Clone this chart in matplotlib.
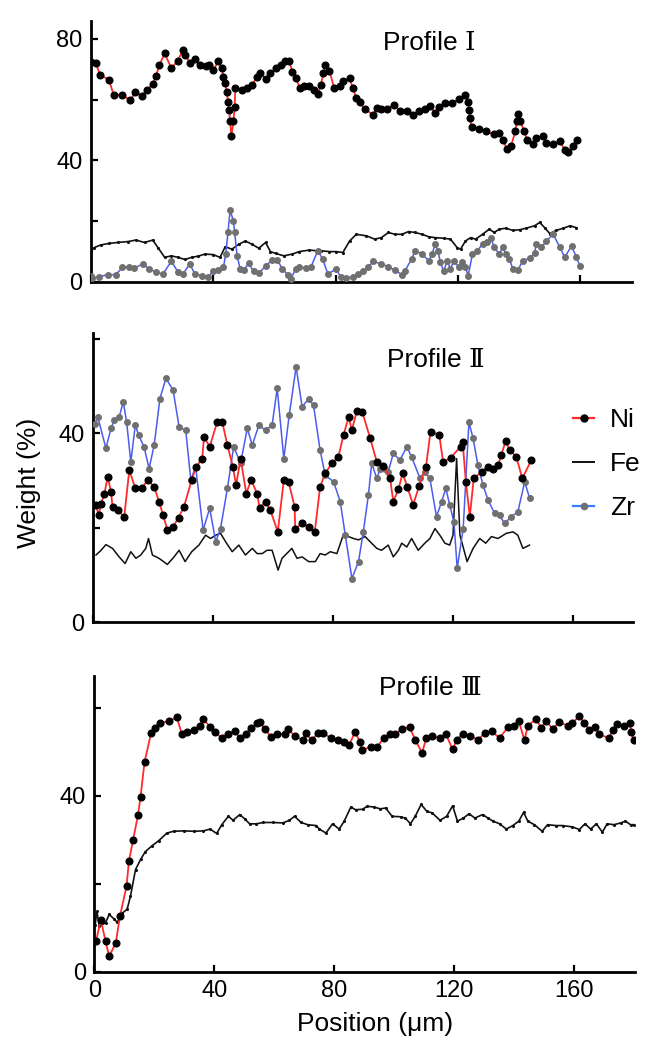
import matplotlib
matplotlib.use("Agg")
import matplotlib.pyplot as plt
from matplotlib.lines import Line2D

plt.rcParams['font.family'] = ['Liberation Sans', 'DejaVu Serif', 'Noto Sans CJK SC']

NI_LINE = "#ff2a2a"
ZR_LINE = "#4b5cf0"
ZR_DOT = "#707070"
FE_LINE = "#111111"

# ---- Profile I ----
p1_ni_x = [0, 1.5, 3.0, 5.9, 7.4, 10.3, 12.9, 14.4, 16.6, 18.3,
           20.2, 21.3, 22.4, 24.1, 26.3, 28.3, 30.1, 30.9, 32.3, 34.0,
           35.6, 37.5, 38.6, 40.0, 41.7, 42.8, 43.3, 43.9, 44.4, 44.8,
           45.2, 45.5, 45.9, 46.6, 47.0, 47.2, 49.4, 51.1, 52.7, 54.4,
           55.4, 57.1, 58.7, 60.4, 62.0, 63.4, 64.8, 65.9, 67.0, 68.4,
           69.7, 71.4, 73.0, 74.2, 75.2, 76.0, 76.7, 78.0, 79.6, 81.3,
           82.4, 84.6, 85.7, 86.8, 87.9, 89.5, 92.3, 93.4, 95.0, 96.7,
           99.2, 101.1, 103.3, 105.5, 107.2, 109.3, 111.0, 112.6, 114.0, 115.9,
           118.2, 120.4, 122.5, 123.4, 123.7, 124.0, 124.5, 127.0, 129.1, 131.9,
           133.6, 134.7, 136.0, 137.4, 138.8, 139.3, 139.6, 140.4, 141.8, 142.6,
           144.6, 145.7, 147.9, 149.0, 151.2, 153.4, 155.0, 156.1, 157.8, 159.1]
p1_ni_y = [72.5, 72.1, 68.1, 66.5, 61.5, 61.5, 59.7, 62.4, 61.3, 63.2,
           65.1, 67.9, 71.4, 75.2, 70.3, 72.7, 76.3, 74.7, 72.2, 73.3,
           71.4, 71.0, 71.4, 69.7, 72.7, 70.3, 67.5, 65.3, 62.6, 59.3,
           56.6, 52.8, 47.9, 52.8, 57.7, 63.7, 63.2, 63.7, 64.8, 67.5,
           68.6, 66.8, 68.6, 70.3, 71.4, 72.7, 72.7, 69.2, 67.0, 63.7,
           64.3, 64.3, 63.2, 61.7, 64.8, 68.6, 71.4, 69.4, 63.7, 64.6,
           66.1, 67.0, 63.7, 60.4, 59.1, 56.9, 55.0, 57.2, 56.9, 56.9,
           58.2, 56.3, 56.1, 54.8, 56.3, 56.9, 58.0, 55.5, 57.7, 58.8,
           58.8, 60.2, 61.5, 59.3, 56.6, 53.9, 50.8, 50.4, 49.5, 48.6,
           49.0, 46.8, 43.8, 44.6, 49.5, 52.8, 55.2, 52.8, 49.5, 46.8,
           45.3, 47.3, 47.9, 45.7, 45.3, 46.2, 43.5, 42.6, 44.6, 46.8]

p1_fe_x = [0, 1.0, 3.2, 5.9, 8.7, 12.0, 14.7, 17.5, 20.2, 21.9,
           24.1, 26.3, 28.5, 30.7, 32.9, 35.1, 37.3, 40.0, 42.2, 43.9,
           46.1, 48.3, 50.5, 52.7, 54.9, 57.1, 58.7, 60.4, 63.1, 65.9,
           68.1, 71.4, 73.6, 75.2, 78.0, 80.2, 82.4, 84.6, 86.8, 90.1,
           92.8, 95.0, 97.3, 99.4, 101.7, 103.9, 106.0, 108.3, 110.5, 112.6,
           115.4, 117.6, 119.8, 120.9, 122.5, 124.2, 125.8, 128.1, 130.3, 131.9,
           133.6, 135.7, 138.0, 140.2, 142.3, 145.1, 146.8, 148.4, 150.1, 152.2,
           154.5, 156.7, 158.8]
p1_fe_y = [10.2, 11.2, 12.1, 12.6, 12.9, 13.2, 13.7, 12.9, 13.7, 11.2,
           8.0, 8.5, 8.0, 7.3, 8.0, 8.4, 9.1, 8.9, 8.0, 11.5,
           10.7, 12.3, 13.4, 12.3, 11.0, 12.9, 9.9, 9.3, 8.5, 9.1,
           9.9, 10.4, 10.2, 10.2, 9.9, 9.9, 9.6, 13.4, 15.6, 15.1,
           14.0, 14.5, 16.2, 15.6, 15.6, 16.5, 16.2, 15.6, 14.8, 14.5,
           14.3, 14.0, 11.2, 10.7, 13.4, 14.5, 14.0, 15.6, 17.3, 16.2,
           17.3, 17.6, 16.9, 17.1, 17.6, 18.4, 19.5, 17.8, 15.8, 16.9,
           17.6, 18.4, 17.8]

p1_zr_x = [0, 0.4, 2.6, 5.4, 8.1, 10.3, 12.5, 14.2, 16.9, 19.1,
           21.4, 23.5, 26.3, 28.5, 30.1, 32.3, 34.0, 36.2, 38.4, 40.0,
           41.7, 43.3, 44.1, 44.8, 45.5, 46.6, 47.0, 47.8, 48.8, 49.9,
           51.6, 53.2, 54.9, 57.1, 59.3, 61.0, 62.6, 64.3, 65.3, 67.0,
           68.1, 70.3, 71.9, 74.2, 75.8, 77.5, 80.2, 81.8, 83.5, 85.7,
           87.4, 89.0, 90.7, 92.3, 95.0, 97.3, 99.4, 101.7, 102.7, 105.0,
           106.0, 108.3, 110.5, 111.6, 112.6, 113.5, 114.3, 115.4, 116.5, 117.6,
           118.7, 120.4, 121.5, 122.5, 123.4, 124.8, 126.4, 128.1, 129.7, 130.8,
           131.9, 133.6, 134.7, 135.7, 136.9, 138.0, 139.6, 141.3, 143.5, 145.1,
           145.7, 147.3, 149.0, 151.2, 153.4, 155.0, 157.2, 158.8, 160.0]
p1_zr_y = [2.0, 1.2, 1.6, 2.3, 2.3, 4.7, 4.9, 4.5, 5.8, 4.2,
           3.1, 2.5, 6.7, 3.1, 2.5, 5.8, 2.5, 2.0, 1.6, 3.6,
           3.8, 4.7, 9.1, 16.2, 23.5, 20.0, 16.2, 8.5, 4.2, 3.8,
           6.0, 3.4, 2.7, 5.2, 7.1, 7.1, 4.2, 2.3, 0.9, 4.2,
           4.9, 4.5, 4.7, 10.2, 7.4, 2.5, 4.2, 1.4, 1.2, 1.6,
           2.5, 3.4, 4.7, 6.7, 5.8, 4.9, 3.8, 2.3, 3.6, 7.6,
           10.2, 9.1, 6.9, 9.1, 12.4, 10.2, 6.4, 3.4, 6.9, 4.2,
           6.9, 4.7, 6.4, 4.7, 2.0, 9.1, 10.2, 12.4, 12.9, 14.5,
           11.3, 9.1, 11.3, 9.1, 7.4, 4.2, 3.8, 6.9, 7.8, 9.3,
           12.4, 11.3, 13.4, 15.6, 11.3, 8.0, 11.8, 8.0, 5.2]

# ---- Profile II ----
p2_ni_x = [1.0, 1.9, 2.7, 3.8, 4.9, 6.0, 6.5, 8.2, 10.4, 12.1,
           14.1, 16.3, 18.2, 20.4, 22.0, 23.4, 24.8, 26.7, 28.5, 30.3,
           32.9, 34.4, 36.4, 37.0, 38.9, 41.4, 43.1, 44.8, 46.6, 47.7,
           49.2, 51.1, 52.7, 54.7, 55.5, 57.5, 59.1, 61.6, 63.6, 65.2,
           67.2, 67.4, 69.7, 71.9, 73.9, 75.7, 77.4, 79.6, 81.8, 83.5,
           85.2, 86.3, 87.9, 89.8, 92.4, 94.6, 96.8, 99.0, 100.1, 101.8,
           103.2, 104.8, 106.7, 108.7, 111.0, 112.5, 115.4, 116.7, 119.2, 122.5,
           123.2, 124.3, 125.6, 126.9, 129.5, 131.7, 133.3, 135.0, 136.1, 137.5,
           138.9, 141.1, 143.1, 146.1]
p2_ni_y = [24.8, 22.6, 25.1, 27.2, 30.8, 27.6, 24.4, 23.7, 22.3, 32.2,
           28.3, 28.3, 30.1, 28.6, 25.5, 22.6, 19.5, 20.2, 22.1, 24.4,
           30.1, 32.9, 34.6, 39.2, 37.1, 42.4, 42.3, 37.5, 32.9, 29.0,
           34.6, 27.2, 30.1, 27.2, 24.2, 25.5, 23.7, 19.1, 30.1, 29.7,
           24.4, 19.8, 20.9, 20.2, 19.0, 28.6, 31.5, 33.6, 35.0, 39.6,
           43.4, 40.6, 44.7, 44.4, 38.9, 33.9, 33.1, 30.5, 25.5, 28.1,
           31.5, 28.6, 24.8, 28.8, 32.9, 40.3, 39.7, 33.9, 34.8, 37.1,
           38.2, 29.7, 22.3, 30.4, 31.8, 32.9, 32.4, 33.2, 35.3, 38.3,
           36.4, 35.0, 30.4, 34.3]

p2_fe_x = [1.0, 2.7, 4.3, 6.5, 8.7, 10.7, 12.6, 14.3, 15.9, 17.6,
           18.5, 19.8, 22.0, 24.8, 27.0, 28.7, 30.7, 32.9, 35.3, 37.5,
           39.2, 40.9, 42.5, 44.2, 46.4, 48.6, 50.8, 53.1, 54.7, 56.4,
           58.0, 59.7, 61.7, 63.0, 66.3, 68.0, 69.7, 71.9, 74.1, 75.7,
           77.4, 79.1, 81.3, 83.5, 85.2, 86.8, 88.5, 90.7, 92.4, 94.6,
           96.2, 98.4, 100.1, 101.8, 102.9, 104.6, 106.2, 108.4, 110.6, 112.3,
           114.0, 115.6, 117.3, 118.9, 120.0, 121.2, 122.3, 124.7, 126.7, 128.9,
           130.9, 132.8, 135.0, 137.8, 140.0, 141.6, 143.3, 145.5]
p2_fe_y = [14.2, 15.2, 16.4, 15.6, 13.8, 12.4, 14.9, 13.5, 14.2, 15.6,
           17.7, 14.2, 13.5, 12.2, 13.8, 15.2, 12.8, 14.9, 16.3, 18.4,
           17.7, 18.4, 18.8, 17.0, 14.9, 16.3, 14.2, 15.6, 14.5, 14.5,
           15.2, 15.2, 11.0, 13.5, 15.6, 13.5, 13.8, 12.8, 12.8, 14.5,
           14.2, 14.9, 14.5, 18.6, 18.1, 17.7, 17.4, 18.1, 17.0, 15.6,
           15.2, 16.3, 13.8, 15.2, 16.7, 15.9, 17.7, 15.2, 16.7, 17.7,
           19.8, 18.4, 16.7, 16.3, 18.4, 34.6, 18.4, 12.8, 15.6, 17.7,
           16.7, 18.1, 17.7, 18.8, 19.1, 18.4, 15.6, 16.3]

p2_zr_x = [0.5, 1.6, 4.3, 6.0, 7.1, 8.7, 10.1, 11.2, 12.6, 14.1,
           15.2, 17.0, 18.7, 20.4, 22.3, 24.3, 26.7, 28.7, 30.9, 32.6,
           34.2, 36.7, 38.9, 40.9, 42.5, 44.8, 46.9, 49.2, 51.4, 53.1,
           55.3, 57.5, 59.7, 61.4, 63.6, 65.4, 67.7, 69.7, 71.9, 73.5,
           75.7, 77.4, 80.2, 82.4, 84.1, 86.3, 88.5, 90.1, 91.8, 92.9,
           94.6, 95.7, 97.3, 98.4, 100.1, 102.3, 104.6, 106.2, 109.0, 110.6,
           112.3, 114.5, 116.2, 117.6, 118.9, 120.3, 121.4, 123.4, 125.3, 126.7,
           128.3, 130.0, 131.7, 133.9, 135.5, 137.2, 139.4, 141.6, 143.9, 145.5]
p2_zr_y = [42.0, 43.4, 36.8, 41.0, 42.8, 43.4, 46.6, 42.4, 33.9, 41.7,
           39.6, 37.1, 32.5, 37.5, 47.3, 51.6, 49.1, 41.3, 40.6, 30.1,
           32.9, 19.5, 24.1, 17.0, 19.8, 28.3, 37.1, 33.6, 41.0, 37.5,
           41.7, 40.6, 41.7, 49.5, 34.6, 43.8, 54.0, 45.6, 47.3, 45.9,
           36.4, 31.1, 29.7, 25.5, 18.4, 9.2, 12.8, 19.1, 26.9, 33.6,
           30.4, 32.5, 32.5, 31.8, 35.7, 34.3, 37.1, 35.0, 30.4, 31.8,
           30.4, 22.3, 25.5, 28.3, 24.8, 21.2, 11.4, 19.8, 42.3, 38.9,
           33.2, 29.0, 25.8, 23.0, 22.6, 20.9, 22.3, 23.3, 29.7, 26.3]

# ---- Profile III ----
p3_ni_x = [0.5, 2.1, 3.7, 4.9, 7.1, 8.5, 10.7, 11.5, 12.9, 14.5,
           15.4, 16.7, 18.9, 20.3, 21.8, 24.8, 27.5, 29.2, 30.8, 33.1,
           35.1, 36.4, 38.6, 40.2, 42.5, 44.7, 46.9, 48.5, 50.5, 52.4,
           54.3, 55.2, 56.8, 59.0, 60.9, 63.5, 64.6, 66.8, 69.6, 70.6,
           72.6, 74.5, 76.4, 78.9, 81.2, 83.4, 85.0, 87.0, 88.6, 89.4,
           92.2, 94.4, 96.6, 98.8, 100.5, 102.7, 105.2, 107.1, 109.4, 110.8,
           112.7, 115.4, 117.4, 119.6, 121.0, 123.0, 125.4, 128.1, 130.3, 132.6,
           135.3, 138.1, 140.0, 141.7, 143.6, 144.7, 147.5, 149.2, 150.8, 153.0,
           155.2, 158.0, 159.6, 161.9, 163.5, 165.2, 167.2, 168.5, 171.8, 173.1,
           174.6, 176.8, 178.7, 179.3, 180.1]
p3_ni_y = [6.9, 11.8, 6.9, 3.5, 6.5, 12.6, 19.4, 25.1, 30.0, 35.5,
           39.8, 47.6, 54.2, 55.4, 56.5, 56.9, 57.8, 53.9, 54.4, 55.0,
           55.8, 57.4, 55.6, 54.4, 53.1, 54.1, 54.6, 53.1, 54.1, 55.4,
           56.4, 56.7, 55.2, 53.3, 54.0, 54.0, 55.2, 53.6, 52.6, 54.2,
           52.6, 54.2, 54.2, 53.1, 52.6, 52.1, 51.4, 54.5, 52.3, 50.3,
           51.1, 51.1, 53.1, 53.9, 53.9, 55.2, 55.6, 52.7, 49.7, 53.1,
           53.5, 53.1, 53.9, 50.5, 52.7, 54.1, 53.6, 52.7, 54.2, 54.6,
           53.1, 55.6, 55.9, 56.9, 52.6, 55.9, 57.4, 55.4, 56.9, 55.2,
           56.7, 55.9, 56.6, 58.0, 56.6, 55.0, 55.6, 53.9, 53.1, 55.0,
           56.3, 55.8, 56.6, 54.4, 52.6]

p3_fe_x = [0.2, 0.8, 1.6, 3.7, 4.9, 6.5, 7.6, 9.3, 10.9, 12.0,
           13.7, 15.4, 17.0, 19.2, 21.5, 24.2, 26.4, 29.8, 33.1, 36.4,
           38.6, 40.8, 42.5, 44.7, 46.3, 48.5, 50.2, 51.8, 54.1, 56.3,
           59.6, 62.9, 65.1, 66.8, 69.0, 71.2, 74.0, 75.1, 77.3, 79.5,
           81.7, 83.4, 85.6, 87.2, 89.5, 91.1, 93.3, 95.5, 97.2, 99.4,
           102.2, 103.8, 105.5, 107.1, 109.1, 111.0, 112.7, 115.4, 117.6, 119.6,
           121.2, 123.2, 125.1, 127.0, 129.6, 131.4, 133.1, 135.3, 137.5, 139.7,
           141.7, 143.3, 144.7, 146.9, 149.5, 151.3, 154.1, 156.3, 159.6, 161.9,
           163.8, 165.7, 167.6, 169.6, 171.2, 173.5, 175.7, 177.3, 179.0, 180.1]
p3_fe_y = [10.5, 13.7, 10.3, 11.1, 13.0, 12.0, 11.2, 13.3, 14.2, 17.1,
           23.2, 25.5, 27.3, 28.6, 29.8, 31.5, 31.9, 32.0, 31.9, 32.0,
           32.4, 31.4, 33.4, 35.3, 34.4, 35.7, 34.7, 33.6, 33.6, 33.9,
           33.9, 33.8, 34.4, 35.3, 33.9, 33.4, 33.2, 32.4, 31.5, 33.6,
           32.4, 34.2, 37.4, 36.8, 36.9, 37.6, 37.4, 37.0, 37.2, 35.3,
           35.2, 34.9, 33.6, 35.3, 38.0, 36.4, 36.1, 34.4, 35.3, 37.7,
           34.2, 34.9, 35.9, 34.9, 35.7, 34.9, 34.2, 33.6, 32.4, 33.2,
           34.2, 36.2, 34.2, 33.4, 31.9, 33.4, 33.2, 33.2, 32.9, 32.3,
           33.6, 32.4, 33.6, 31.7, 33.6, 33.4, 33.8, 34.2, 33.4, 33.4]

x_ticks = [0, 40, 80, 120, 160]
x_tick_labels = ["0", "40", "80", "120", "160"]

TITLE_FONT = ['Liberation Sans', 'DejaVu Serif']


def style_axes(ax, xmax, ymax, y_ticks, y_labels, show_x_labels):
    ax.set_xlim(0, xmax)
    ax.set_ylim(0, ymax)
    for side in ["top", "right"]:
        ax.spines[side].set_visible(False)
    for side in ["left", "bottom"]:
        ax.spines[side].set_linewidth(2.0)
    ax.set_yticks(y_ticks)
    ax.set_yticklabels(y_labels)
    ax.set_xticks(x_ticks)
    if show_x_labels:
        ax.set_xticklabels(x_tick_labels)
    else:
        ax.set_xticklabels([""] * len(x_ticks))
    ax.tick_params(direction="in", length=5, width=1.6, labelsize=17)
    ax.tick_params(axis="y", pad=6)
    ax.tick_params(axis="x", pad=6)


def draw_ni(ax, x, y):
    ax.plot(x, y, color=NI_LINE, lw=1.3, marker="o", markersize=4.8,
            markerfacecolor="black", markeredgecolor="black", zorder=4)


def draw_zr(ax, x, y):
    ax.plot(x, y, color=ZR_LINE, lw=1.1, marker="o", markersize=4.0,
            markerfacecolor=ZR_DOT, markeredgecolor=ZR_DOT, zorder=3)


fig = plt.figure(figsize=(6.45, 10.42), dpi=100)

ax1 = fig.add_axes([0.1411, 0.7297, 0.8388, 0.2505])
ax1.plot(p1_fe_x, p1_fe_y, color=FE_LINE, lw=1.2, marker=".", markersize=2.5, zorder=2)
draw_zr(ax1, p1_zr_x, p1_zr_y)
draw_ni(ax1, p1_ni_x, p1_ni_y)
style_axes(ax1, 177, 86, [0, 20, 40, 60, 80], ["0", "", "40", "", "80"], False)
ax1.text(0.625, 0.915, "Profile Ⅰ", transform=ax1.transAxes, ha="center", va="center",
         fontsize=19, family=TITLE_FONT)

ax2 = fig.add_axes([0.1442, 0.403, 0.8372, 0.2774])
ax2.plot(p2_fe_x, p2_fe_y, color=FE_LINE, lw=1.1, zorder=2)
draw_zr(ax2, p2_zr_x, p2_zr_y)
draw_ni(ax2, p2_ni_x, p2_ni_y)
style_axes(ax2, 180, 61.2, [0, 20, 40, 60], ["0", "", "40", ""], False)
ax2.text(0.635, 0.907, "Profile Ⅱ", transform=ax2.transAxes, ha="center", va="center",
         fontsize=19, family=TITLE_FONT)

ax3 = fig.add_axes([0.1465, 0.0675, 0.838, 0.2838])
ax3.plot(p3_fe_x, p3_fe_y, color=FE_LINE, lw=1.2, marker=".", markersize=2.5, zorder=2)
draw_ni(ax3, p3_ni_x, p3_ni_y)
style_axes(ax3, 180.5, 67.2, [0, 20, 40, 60], ["0", "", "40", ""], True)
ax3.text(0.621, 0.959, "Profile Ⅲ", transform=ax3.transAxes, ha="center", va="center",
         fontsize=19, family=TITLE_FONT)

# legend
handles = [
    Line2D([], [], color=NI_LINE, lw=1.6, marker="o", markersize=5,
           markerfacecolor="black", markeredgecolor="black"),
    Line2D([], [], color=FE_LINE, lw=1.4),
    Line2D([], [], color="#3a7cff", lw=1.6, marker="o", markersize=4.5,
           markerfacecolor=ZR_DOT, markeredgecolor=ZR_DOT),
]
ax2.legend(handles, ["Ni", "Fe", "Zr"], loc="center left",
           bbox_to_anchor=(573 / 645, 1 - 464 / 1042), bbox_transform=fig.transFigure,
           frameon=False, fontsize=19, handlelength=0.8, handletextpad=0.6,
           labelspacing=0.75, borderpad=0, borderaxespad=0)

fig.text(29 / 645, 1 - 483 / 1042, "Weight (%)", rotation=90, ha="center", va="center", fontsize=19)
fig.text(375 / 645, 1 - 1024 / 1042, "Position (μm)", ha="center", va="center", fontsize=19)

plt.savefig("out.png", dpi=100)
plt.close()
